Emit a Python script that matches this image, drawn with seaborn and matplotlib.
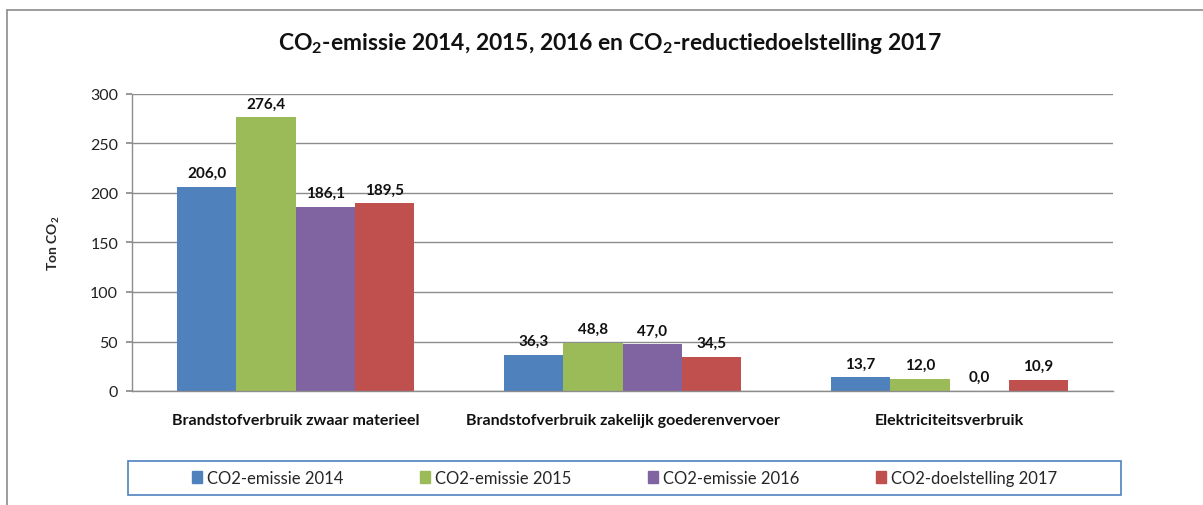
import pandas as pd
import matplotlib.pyplot as plt
import matplotlib.lines as mlines
import seaborn as sns

sns.set_theme(style="white")
plt.rcParams['font.family'] = ['Lato', 'DejaVu Sans']
plt.rcParams['mathtext.default'] = 'regular'

categories = ["Brandstofverbruik zwaar materieel",
              "Brandstofverbruik zakelijk goederenvervoer",
              "Elektriciteitsverbruik"]
series = ["CO2-emissie 2014", "CO2-emissie 2015", "CO2-emissie 2016", "CO2-doelstelling 2017"]
emissie_2014 = [206.0, 36.3, 13.7]
emissie_2015 = [276.4, 48.8, 12.0]
emissie_2016 = [186.1, 47.0, 0.0]
doel_2017 = [189.5, 34.5, 10.9]
colors = ["#4F81BD", "#9BBB59", "#8064A2", "#C0504D"]

rows = []
for name, vals in zip(series, [emissie_2014, emissie_2015, emissie_2016, doel_2017]):
    for cat, v in zip(categories, vals):
        rows.append({"categorie": cat, "reeks": name, "waarde": v})
df = pd.DataFrame(rows)

fig = plt.figure(figsize=(12.03, 5.06), dpi=100)
ax = fig.add_axes([132 / 1203, 1 - 392 / 506, (1113 - 132) / 1203, (392 - 95) / 506])

sns.barplot(data=df, x="categorie", y="waarde", hue="reeks", palette=colors,
            saturation=1, width=0.725, gap=0, ax=ax, legend=False, edgecolor="none")

for cont in ax.containers:
    labels = [f"{b.get_height():.1f}".replace(".", ",") for b in cont]
    ax.bar_label(cont, labels=labels, padding=5, fontsize=11, fontweight="bold", color="#111111")

ax.set_ylim(0, 300)
ax.set_yticks(range(0, 301, 50))
ax.set_xlim(-0.5, 2.5)
ax.yaxis.grid(True, color="#8C8C8C", linewidth=1)
ax.set_axisbelow(True)
for s in ["top", "right"]:
    ax.spines[s].set_visible(False)
for s in ["left", "bottom"]:
    ax.spines[s].set_color("#8C8C8C")
    ax.spines[s].set_linewidth(1)
ax.tick_params(axis="y", left=True, length=4, color="#8C8C8C", labelsize=11.5, labelcolor="#222222", pad=6)
ax.tick_params(axis="x", bottom=False, labelsize=11.5, pad=10)
for t in ax.get_xticklabels():
    t.set_fontweight("bold")
    t.set_color("#111111")
ax.set_xlabel("")
ax.set_ylabel("Ton CO$_2$", fontsize=10, fontweight="bold", labelpad=20)

fig.text(610 / 1203, 1 - 43 / 506, "CO$_2$-emissie 2014, 2015, 2016 en CO$_2$-reductiedoelstelling 2017",
         ha="center", va="center", fontsize=16.5, fontweight="bold", color="#111111")

# outer chart border (left and top)
fig.add_artist(mlines.Line2D([7 / 1203, 7 / 1203], [0, 1 - 11 / 506], transform=fig.transFigure,
                             color="#8C8C8C", linewidth=1.2))
fig.add_artist(mlines.Line2D([7 / 1203, 1], [1 - 11 / 506, 1 - 11 / 506], transform=fig.transFigure,
                             color="#8C8C8C", linewidth=1.2))

handles = [plt.Rectangle((0, 0), 1, 1, color=c) for c in colors]
leg = fig.legend(handles, series, loc="center", ncol=4,
                 bbox_to_anchor=(128 / 1203, 1 - 496 / 506, (1121 - 128) / 1203, 34 / 506),
                 bbox_transform=fig.transFigure, fontsize=12, frameon=False,
                 handlelength=0.6, handleheight=0.7, handletextpad=0.3, columnspacing=4.6,
                 borderaxespad=0)
frame = plt.Rectangle((128 / 1203, 1 - 496 / 506), (1121 - 128) / 1203, 34 / 506,
                      transform=fig.transFigure, fill=False, edgecolor="#4F81BD", linewidth=1.2)
fig.add_artist(frame)

plt.savefig("out.png", dpi=100)
